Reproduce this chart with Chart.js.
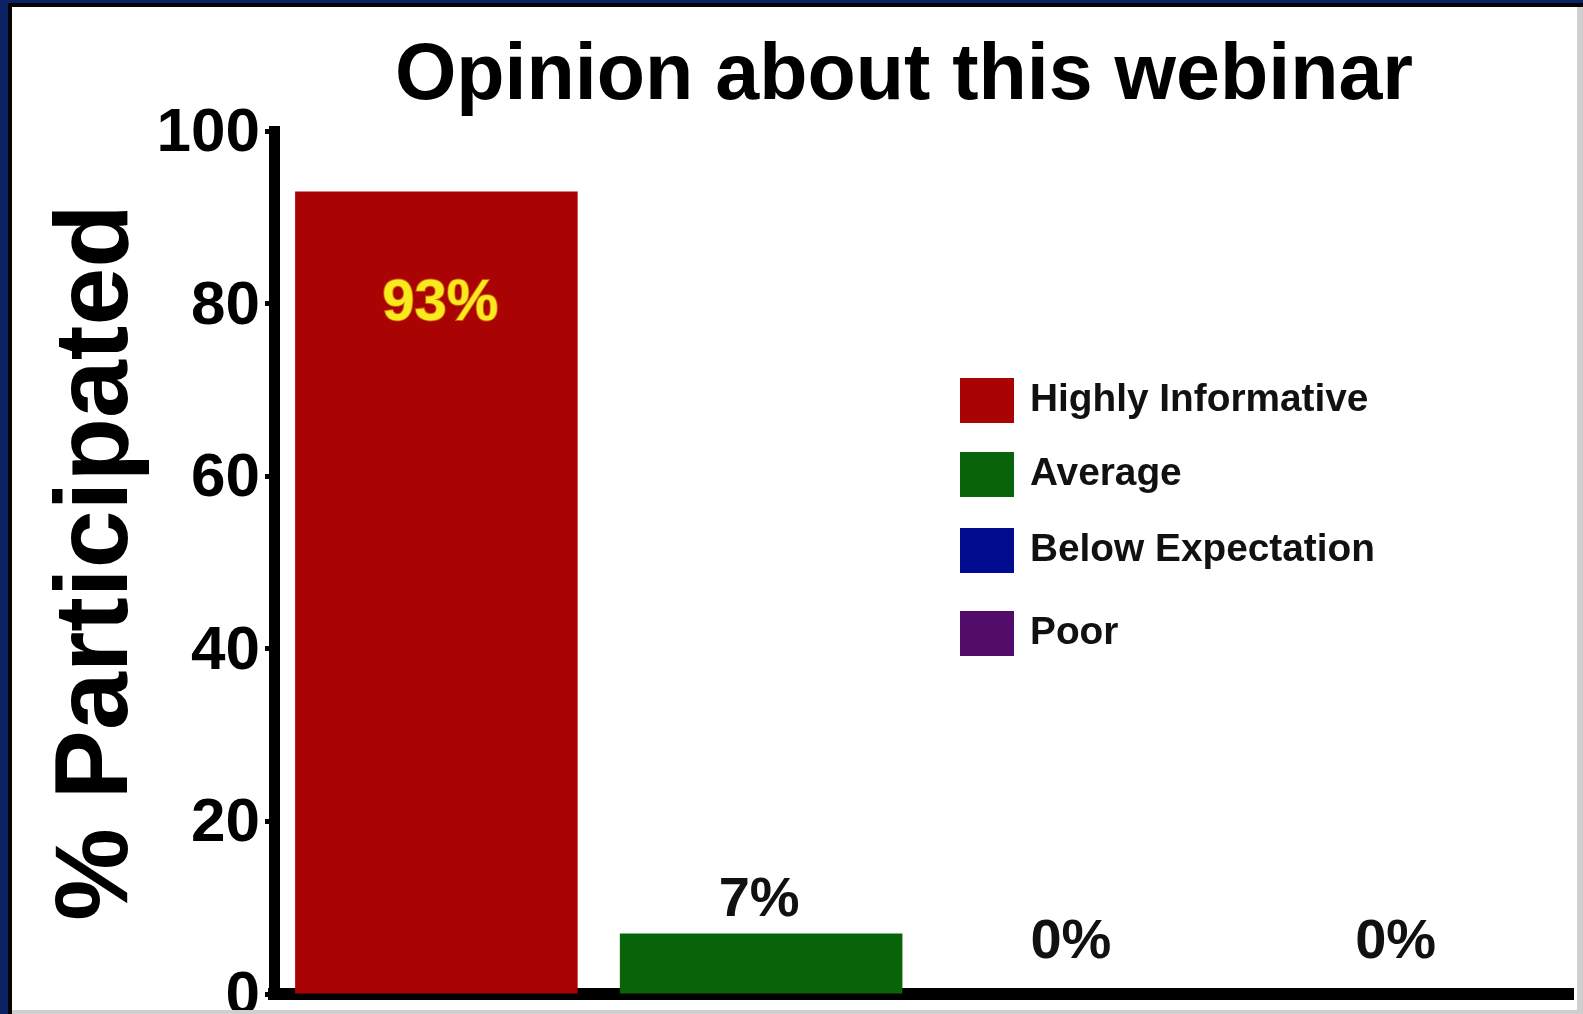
<!DOCTYPE html>
<html>
<head>
<meta charset="utf-8">
<title>Opinion about this webinar</title>
<script src="https://cdn.jsdelivr.net/npm/chart.js@4.4.1/dist/chart.umd.min.js"></script>
<style>
  html, body { margin: 0; padding: 0; width: 1583px; height: 1014px; overflow: hidden; background: #cfcfcf; }
  .band { position: absolute; }
  #navyTop { left: 0; top: 0; width: 1583px; height: 3px; background: #0c2265; }
  #navyLeft { left: 0; top: 0; width: 8px; height: 1014px; background: #0c2265; }
  #blackTop { left: 8px; top: 3px; width: 1575px; height: 4px; background: #050505; }
  #blackLeft { left: 8px; top: 3px; width: 4px; height: 1011px; background: #050505; }
  #sheet { position: absolute; left: 12px; top: 7px; width: 1565px; height: 1003px; background: #ffffff; overflow: hidden; }
  #sheet canvas { position: absolute; left: -12px; top: -7px; }
</style>
</head>
<body>
<div class="band" id="navyTop"></div>
<div class="band" id="navyLeft"></div>
<div class="band" id="blackTop"></div>
<div class="band" id="blackLeft"></div>
<div id="sheet"><canvas id="chart" width="1583" height="1060" style="width:1583px;height:1060px"></canvas></div>
<script>
// Survey answers and their shares (percent of participants)
const categories = ['Highly Informative', 'Average', 'Below Expectation', 'Poor'];
const percentages = [93, 7, 0, 0];
const barColors = ['#a90303', '#076409', '#020c8e', '#520d6b'];
const yTicks = [0, 20, 40, 60, 80, 100];
const chartTitle = 'Opinion about this webinar';
const yTitle = '% Participated';

const FONT = '"Liberation Sans", Arial, Helvetica, sans-serif';

// Row centres of the category key
const keyRows = [400, 474, 550, 633];

// Heading above the plot
const headingPlugin = {
  id: 'heading',
  afterDraw(chart) {
    const ctx = chart.ctx;
    ctx.save();
    ctx.font = 'bold 79px ' + FONT;
    ctx.fillStyle = '#000';
    ctx.textAlign = 'center';
    ctx.textBaseline = 'middle';
    ctx.fillText(chartTitle, 904, 77);
    ctx.restore();
  }
};

// Percent labels for each bar
const valueLabelPlugin = {
  id: 'valueLabels',
  afterDatasetsDraw(chart) {
    const ctx = chart.ctx;
    const bottom = chart.chartArea.bottom;
    const meta = chart.getDatasetMeta(0);
    meta.data.forEach((bar, i) => {
      const v = percentages[i];
      const text = v + '%';
      ctx.save();
      ctx.textAlign = 'center';
      ctx.textBaseline = 'middle';
      if (v >= 50) {
        ctx.font = 'bold 58px ' + FONT;
        ctx.lineWidth = 2;
        ctx.strokeStyle = 'rgba(230,150,20,0.6)';
        ctx.strokeText(text, bar.x + 4, bar.y + 113);
        ctx.fillStyle = '#f8ea1c';
        ctx.fillText(text, bar.x + 4, bar.y + 113);
      } else {
        ctx.font = 'bold 56px ' + FONT;
        ctx.fillStyle = '#111';
        const x = v === 0 ? bar.x - 15 : bar.x - 2;
        ctx.fillText(text, x, Math.min(bar.y - 33, bottom - 51));
      }
      ctx.restore();
    });
  }
};

// Category key drawn inside the plot area
const keyPlugin = {
  id: 'categoryKey',
  afterDraw(chart) {
    const ctx = chart.ctx;
    ctx.save();
    ctx.font = 'bold 38.8px ' + FONT;
    ctx.textAlign = 'left';
    ctx.textBaseline = 'middle';
    categories.forEach((name, i) => {
      const cy = keyRows[i];
      ctx.fillStyle = barColors[i];
      ctx.fillRect(960, cy - 22, 54, 45);
      ctx.fillStyle = '#111';
      ctx.fillText(name, 1030, cy);
    });
    ctx.restore();
  }
};

new Chart(document.getElementById('chart'), {
  type: 'bar',
  data: {
    labels: categories,
    datasets: [{
      label: yTitle,
      data: percentages,
      backgroundColor: barColors,
      borderWidth: 0,
      barPercentage: 0.87,
      categoryPercentage: 1
    }]
  },
  options: {
    responsive: false,
    animation: false,
    devicePixelRatio: 1,
    layout: { padding: { left: 0, right: 10, top: 131, bottom: 66 } },
    plugins: {
      legend: { display: false },
      tooltip: { enabled: false },
      title: { display: false }
    },
    scales: {
      x: {
        afterFit(scale) { scale.height = 0; },
        ticks: { display: false },
        grid: { display: true, drawOnChartArea: false, drawTicks: false },
        border: { display: true, color: '#000', width: 12 }
      },
      y: {
        min: 0,
        max: 100,
        afterBuildTicks(scale) { scale.ticks = yTicks.map(v => ({ value: v })); },
        afterFit(scale) { scale.width = 274; },
        ticks: {
          color: '#000',
          padding: 5,
          labelOffset: 3,
          font: { family: FONT, size: 62, weight: 'bold' }
        },
        grid: {
          display: true,
          drawOnChartArea: false,
          drawTicks: true,
          tickLength: 9,
          tickWidth: 5,
          tickColor: '#000'
        },
        border: { display: true, color: '#000', width: 11 },
        title: {
          display: true,
          text: yTitle,
          color: '#000',
          font: { family: FONT, size: 104, weight: 'bold', lineHeight: 1 },
          padding: { top: 46, bottom: 0 }
        }
      }
    }
  },
  plugins: [headingPlugin, valueLabelPlugin, keyPlugin]
});
</script>
</body>
</html>
